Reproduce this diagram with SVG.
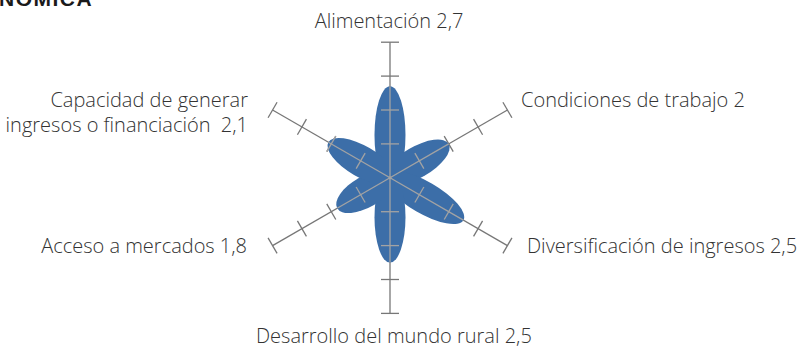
<svg xmlns="http://www.w3.org/2000/svg" width="804" height="353" viewBox="0 0 804 353">
<style>
.ax{stroke:#777;stroke-width:1.3;fill:none}
.axi{stroke:#a3a3a3;stroke-width:1.3;fill:none}
.pet{fill:#3c6ea8}
.lbl{font-family:"Open Sans","Liberation Sans",sans-serif;font-weight:300;font-size:20px;fill:#333}
</style>
<defs>
<g id="axis">
<line class="ax" x1="0" y1="0" x2="135.6" y2="0"/>
<line class="ax" x1="33.9" y1="-9" x2="33.9" y2="9"/>
<line class="ax" x1="67.8" y1="-9" x2="67.8" y2="9"/>
<line class="ax" x1="101.7" y1="-9" x2="101.7" y2="9"/>
<line class="ax" x1="135.6" y1="-9" x2="135.6" y2="9"/>
</g>
</defs>
<rect width="804" height="353" fill="#fff"/>
<text x="-1" y="6" font-family="Liberation Sans,sans-serif" font-weight="bold" font-size="21" letter-spacing="1.5" fill="#1a1a1a">NÓMICA</text>
<g id="axes">
<use href="#axis" transform="translate(390,177.8) rotate(-90)"/>
<use href="#axis" transform="translate(390,177.8) rotate(-30)"/>
<use href="#axis" transform="translate(390,177.8) rotate(30)"/>
<use href="#axis" transform="translate(390,177.8) rotate(90)"/>
<use href="#axis" transform="translate(390,177.8) rotate(150)"/>
<use href="#axis" transform="translate(390,177.8) rotate(210)"/>
</g>
<g id="petals" transform="translate(390,177.8)">
<ellipse class="pet" transform="rotate(-90)" cx="42.8" cy="0" rx="48.7" ry="15.5"/>
<ellipse class="pet" transform="rotate(-30)" cx="30.9" cy="0" rx="36.9" ry="15.5"/>
<ellipse class="pet" transform="rotate(30)" cx="39.4" cy="0" rx="45.4" ry="16"/>
<ellipse class="pet" transform="rotate(90)" cx="39.4" cy="0" rx="45.4" ry="15.5"/>
<ellipse class="pet" transform="rotate(150)" cx="27.5" cy="0" rx="33.5" ry="15.5"/>
<ellipse class="pet" transform="rotate(210)" cx="32.6" cy="0" rx="38.6" ry="15.5"/>
</g>
<g id="inner-axes" transform="translate(390,177.8)">
<g transform="rotate(-90)"><line class="axi" x1="0" y1="0" x2="91.5" y2="0"/><line class="axi" x1="33.9" y1="-9" x2="33.9" y2="9"/><line class="axi" x1="67.8" y1="-9" x2="67.8" y2="9"/></g>
<g transform="rotate(-30)"><line class="axi" x1="0" y1="0" x2="67.8" y2="0"/><line class="axi" x1="33.9" y1="-9" x2="33.9" y2="9"/></g>
<g transform="rotate(30)"><line class="axi" x1="0" y1="0" x2="84.7" y2="0"/><line class="axi" x1="33.9" y1="-9" x2="33.9" y2="9"/><line class="axi" x1="67.8" y1="-9" x2="67.8" y2="9"/></g>
<g transform="rotate(90)"><line class="axi" x1="0" y1="0" x2="84.7" y2="0"/><line class="axi" x1="33.9" y1="-9" x2="33.9" y2="9"/><line class="axi" x1="67.8" y1="-9" x2="67.8" y2="9"/></g>
<g transform="rotate(150)"><line class="axi" x1="0" y1="0" x2="61" y2="0"/><line class="axi" x1="33.9" y1="-9" x2="33.9" y2="9"/></g>
<g transform="rotate(210)"><line class="axi" x1="0" y1="0" x2="71.2" y2="0"/><line class="axi" x1="33.9" y1="-9" x2="33.9" y2="9"/><line class="axi" x1="67.8" y1="-9" x2="67.8" y2="9"/></g>
<circle cx="0" cy="0" r="1.5" fill="#a3a3a3"/>
</g>
<g id="labels">
<text class="lbl" x="389" y="28" text-anchor="middle">Alimentación 2,7</text>
<text class="lbl" x="521" y="107">Condiciones de trabajo 2</text>
<text class="lbl" x="248" y="106.5" text-anchor="end">Capacidad de generar</text>
<text class="lbl" x="248" y="132" text-anchor="end" xml:space="preserve">ingresos o financiación  2,1</text>
<text class="lbl" x="247" y="253" text-anchor="end">Acceso a mercados 1,8</text>
<text class="lbl" x="527" y="253">Diversificación de ingresos 2,5</text>
<text class="lbl" x="256" y="343">Desarrollo del mundo rural 2,5</text>
</g>
</svg>
